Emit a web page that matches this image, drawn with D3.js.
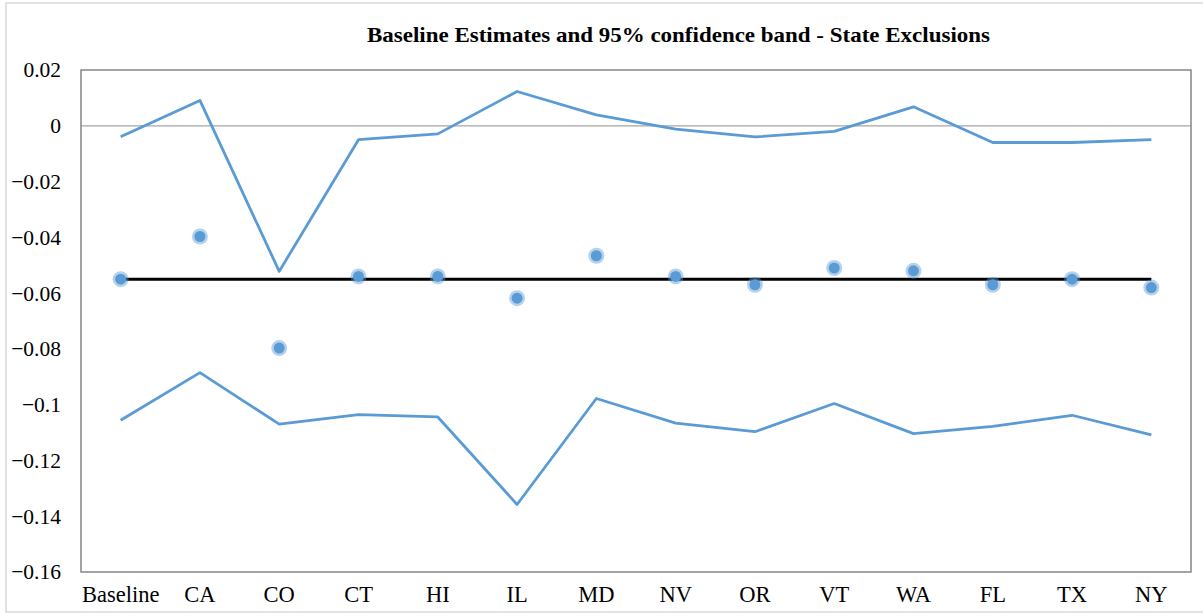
<!DOCTYPE html>
<html>
<head>
<meta charset="utf-8">
<script src="https://cdn.jsdelivr.net/npm/d3@7"></script>
<style>
  body { margin: 0; background: #fff; }
  svg text { font-family: "Liberation Serif", "Times New Roman", Times, serif; fill: #000; }
</style>
</head>
<body>
<div id="viz"></div>
<script>
const width = 1203;
const height = 614;
const margin = {top: 70, right: 12, bottom: 42, left: 81};

const states = ['Baseline', 'CA', 'CO', 'CT', 'HI', 'IL', 'MD', 'NV', 'OR', 'VT', 'WA', 'FL', 'TX', 'NY'];
const estimates = [-0.055, -0.0397, -0.0797, -0.054, -0.054, -0.0618, -0.0466, -0.054, -0.057, -0.051, -0.052, -0.057, -0.055, -0.058];
const upperBand = [-0.0039, 0.0091, -0.0522, -0.005, -0.0029, 0.0123, 0.0039, -0.0012, -0.004, -0.002, 0.0068, -0.006, -0.006, -0.005];
const lowerBand = [-0.1056, -0.0885, -0.107, -0.1036, -0.1044, -0.1358, -0.0978, -0.1066, -0.1097, -0.0996, -0.1104, -0.1078, -0.1038, -0.1108];
const baselineValue = -0.055;
const yTicks = [0.02, 0, -0.02, -0.04, -0.06, -0.08, -0.1, -0.12, -0.14, -0.16];
const title = 'Baseline Estimates and 95% confidence band - State Exclusions';

const blue = '#5B9BD5';

const svg = d3.select('#viz')
  .append('svg')
  .attr('width', width)
  .attr('height', height);

// outer frame
svg.append('rect')
  .attr('x', 6).attr('y', 3)
  .attr('width', width - 4).attr('height', 609)
  .attr('fill', 'none')
  .attr('stroke', '#d9d9d9')
  .attr('stroke-width', 1.5);

const xScale = d3.scaleBand()
  .domain(states)
  .range([margin.left, width - margin.right]);

const yScale = d3.scaleLinear()
  .domain([-0.16, 0.02])
  .range([height - margin.bottom, margin.top]);

const cx = d => xScale(d) + xScale.bandwidth() / 2;

svg.append('text')
  .attr('x', 367)
  .attr('y', 42)
  .attr('font-size', 21)
  .attr('font-weight', 'bold')
  .attr('textLength', 623)
  .attr('lengthAdjust', 'spacingAndGlyphs')
  .text(title);

// zero line
svg.append('line')
  .attr('x1', margin.left).attr('x2', width - margin.right)
  .attr('y1', yScale(0)).attr('y2', yScale(0))
  .attr('stroke', '#a6a6a6')
  .attr('stroke-width', 1.2);

// plot frame
svg.append('rect')
  .attr('x', margin.left).attr('y', margin.top)
  .attr('width', width - margin.right - margin.left)
  .attr('height', height - margin.bottom - margin.top)
  .attr('fill', 'none')
  .attr('stroke', '#868686')
  .attr('stroke-width', 1.5);

// y axis labels
const yAxis = svg.append('g')
  .attr('transform', `translate(${margin.left}, 0)`)
  .call(d3.axisLeft(yScale).tickValues(yTicks).tickSize(0).tickPadding(20)
    .tickFormat(d => d3.format('')(+d.toFixed(2))));
yAxis.select('.domain').remove();
yAxis.selectAll('text')
  .attr('font-size', 21.5);

// x axis labels
const xAxis = svg.append('g')
  .attr('transform', `translate(0, ${height - margin.bottom})`)
  .call(d3.axisBottom(xScale).tickSize(0).tickPadding(14));
xAxis.select('.domain').remove();
xAxis.selectAll('text')
  .attr('font-size', 22.5);

const line = d3.line()
  .x((d, i) => cx(states[i]))
  .y(d => yScale(d));

[upperBand, lowerBand].forEach(band => {
  svg.append('path')
    .attr('d', line(band))
    .attr('fill', 'none')
    .attr('stroke', blue)
    .attr('stroke-width', 2.8)
    .attr('stroke-linejoin', 'round');
});

// baseline estimate
svg.append('line')
  .attr('x1', cx(states[0])).attr('x2', cx(states[states.length - 1]))
  .attr('y1', yScale(baselineValue)).attr('y2', yScale(baselineValue))
  .attr('stroke', '#000')
  .attr('stroke-width', 3);

const dots = svg.selectAll('.dot')
  .data(estimates)
  .join('g')
  .attr('class', 'dot')
  .attr('transform', (d, i) => `translate(${cx(states[i])}, ${yScale(d)})`);

dots.append('circle')
  .attr('r', 8)
  .attr('fill', blue)
  .attr('fill-opacity', 0.45);

dots.append('circle')
  .attr('r', 5.5)
  .attr('fill', blue);
</script>
</body>
</html>
